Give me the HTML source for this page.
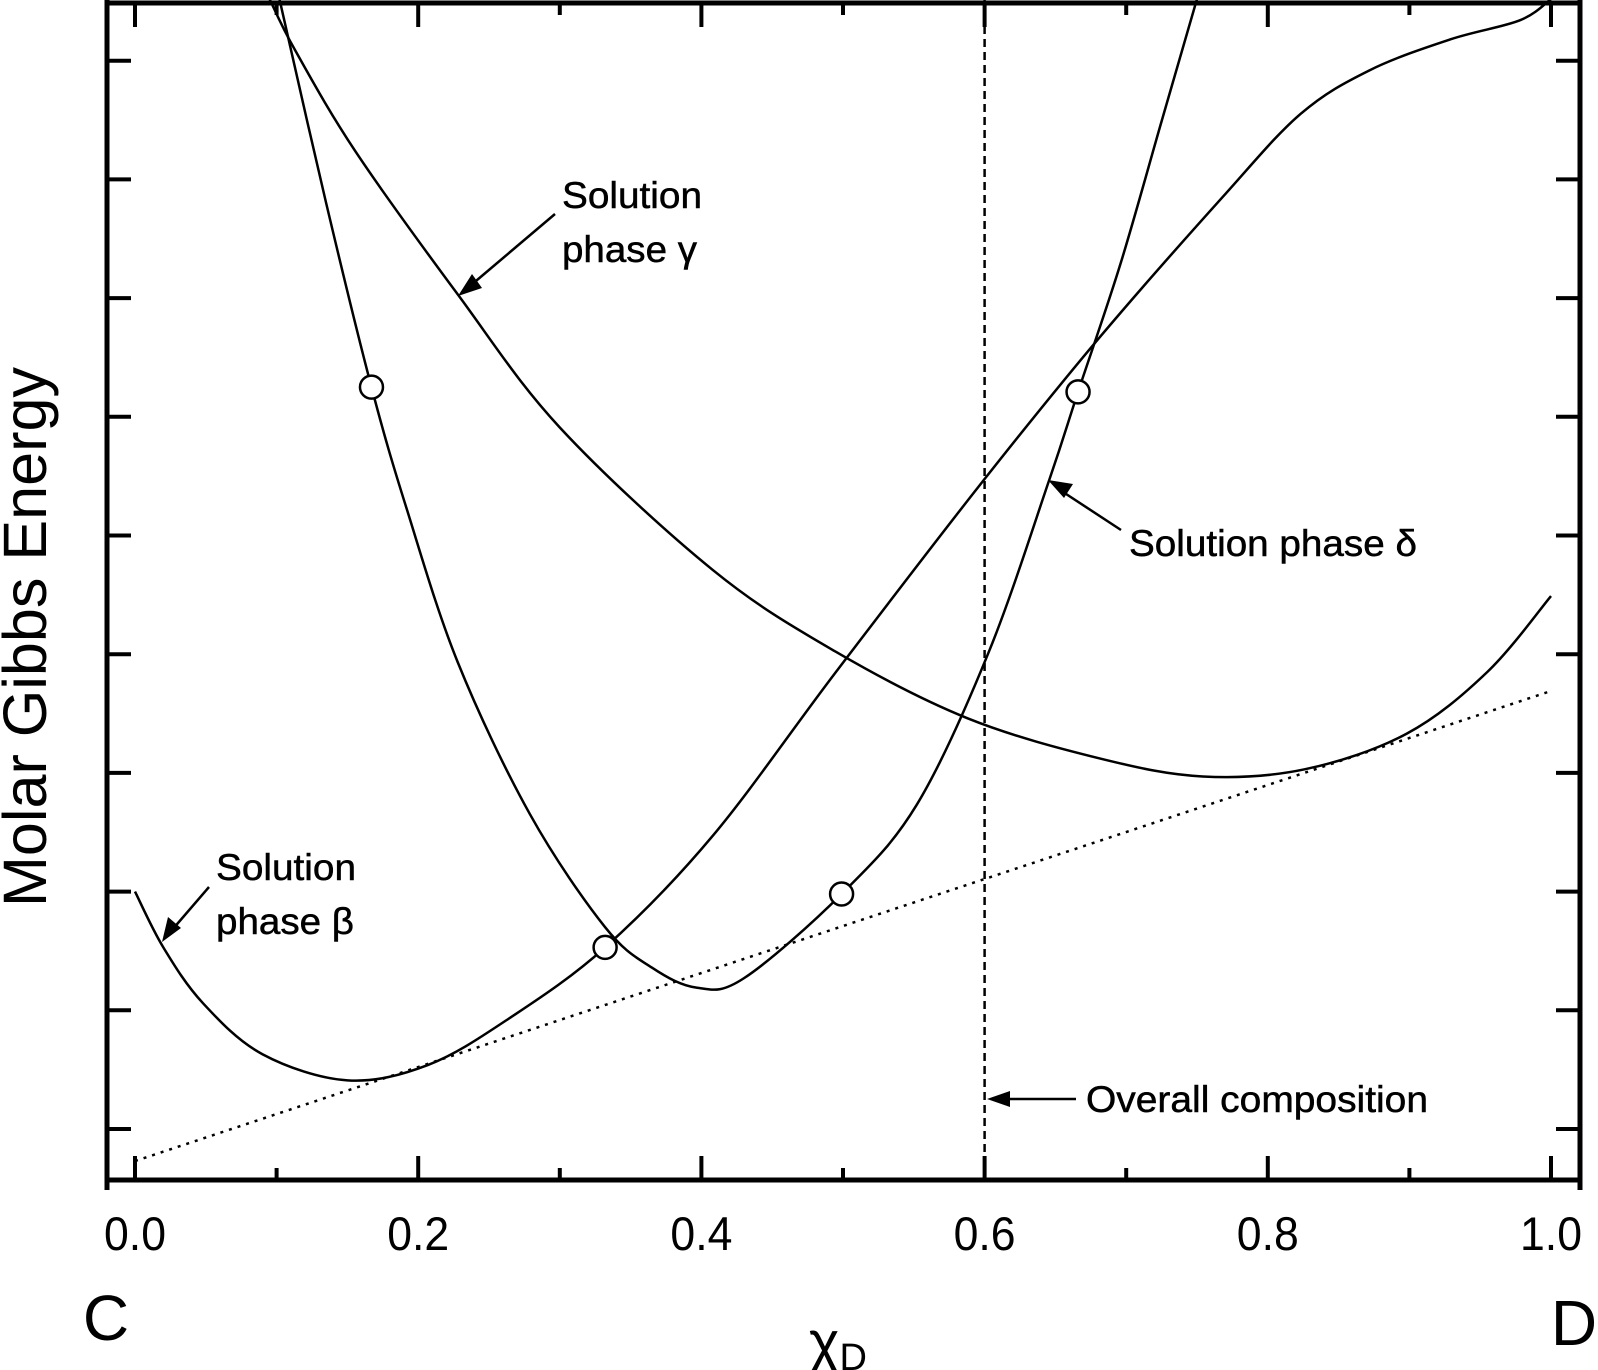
<!DOCTYPE html>
<html><head><meta charset="utf-8"><style>
html,body{margin:0;padding:0;background:#fff}
svg{display:block}
text{font-family:"Liberation Sans",Arial,sans-serif;fill:#000}
.ann{font-size:37px;stroke:#000;stroke-width:0.5px}
</style></head><body>
<svg id="chart" width="1598" height="1370" viewBox="0 0 1598 1370" xmlns="http://www.w3.org/2000/svg">
<g id="axes"></g>
<g id="marks"></g>
<text transform="translate(46,637) rotate(-90)" font-size="61" text-anchor="middle" textLength="540" lengthAdjust="spacingAndGlyphs">Molar Gibbs Energy</text>
<text x="838" y="1362" font-size="58" text-anchor="middle">χ<tspan font-size="38" dy="8">D</tspan></text>
<text x="106" y="1340" font-size="64" text-anchor="middle">C</text>
<text x="1574" y="1345" font-size="64" text-anchor="middle">D</text>
<g>
<text class="ann" x="562" y="208" textLength="140" lengthAdjust="spacingAndGlyphs">Solution</text>
<text class="ann" x="562" y="262" textLength="135" lengthAdjust="spacingAndGlyphs">phase γ</text>
<line x1="555" y1="214" x2="470" y2="286" stroke="#000" stroke-width="2.5"/>
<polygon points="458,296 472,274 482,288" fill="#000"/>
</g>
<g>
<text class="ann" x="1129" y="556" textLength="288" lengthAdjust="spacingAndGlyphs">Solution phase δ</text>
<line x1="1121" y1="530" x2="1060" y2="490" stroke="#000" stroke-width="2.5"/>
<polygon points="1048,480 1073,484 1064,498" fill="#000"/>
</g>
<g>
<text class="ann" x="216" y="880" textLength="140" lengthAdjust="spacingAndGlyphs">Solution</text>
<text class="ann" x="216" y="934" textLength="138" lengthAdjust="spacingAndGlyphs">phase β</text>
<line x1="209" y1="887" x2="172" y2="930" stroke="#000" stroke-width="2.5"/>
<polygon points="162,942 168,917 181,928" fill="#000"/>
</g>
<g>
<text class="ann" x="1086" y="1112" textLength="342" lengthAdjust="spacingAndGlyphs">Overall composition</text>
<line x1="1076" y1="1099" x2="1000" y2="1099" stroke="#000" stroke-width="2.5"/>
<polygon points="987,1099 1010,1091 1010,1107" fill="#000"/>
</g>
</svg>
<script>
const xTickValues=[0,0.1,0.2,0.3,0.4,0.5,0.6,0.7,0.8,0.9,1.0];
const xTickLabels=["0.0","0.2","0.4","0.6","0.8","1.0"];
const xLabelValues=[0,0.2,0.4,0.6,0.8,1.0];
const yTickValues=[0,1,2,3,4,5,6,7,8,9];
const betaX=[0,0.02,0.048,0.09,0.15,0.207,0.264,0.332,0.408,0.495,0.595,0.682,0.768,0.823,0.872,0.929,0.978,1.0];
const betaY=[2.0,1.53,1.06,0.63,0.41,0.54,0.93,1.53,2.47,3.85,5.40,6.68,7.85,8.55,8.92,9.18,9.34,9.52];
const gammaX=[0.095,0.113,0.156,0.228,0.30,0.408,0.495,0.588,0.682,0.754,0.826,0.898,0.955,1.0];
const gammaY=[9.52,9.09,8.23,7.03,5.91,4.71,4.02,3.46,3.12,2.97,3.03,3.33,3.85,4.49];
const deltaX=[0.102,0.135,0.167,0.192,0.228,0.279,0.332,0.365,0.397,0.43,0.499,0.552,0.603,0.646,0.666,0.696,0.725,0.75];
const deltaY=[9.52,7.80,6.25,5.22,3.93,2.65,1.70,1.36,1.19,1.27,1.98,2.73,4.02,5.48,6.21,7.29,8.49,9.52];
const circleX=[0.167,0.332,0.499,0.666];
const circleY=[6.25,1.53,1.98,6.21];
const tangentX=[0,1.0];
const tangentY=[-0.27,3.69];
const overallComposition=0.6;

const X0=135,XW=1416,YB=1129,YS=118.7;
const sx=v=>X0+v*XW, sy=k=>YB-k*YS;
const NS="http://www.w3.org/2000/svg";
const axes=document.getElementById('axes'), marks=document.getElementById('marks');
function mk(tag,attrs,parent){const e=document.createElementNS(NS,tag);for(const k in attrs)e.setAttribute(k,attrs[k]);parent.appendChild(e);return e;}
const L=107,R=1580,B=1180,T=3;
let a=mk('line',{x1:L,y1:0,x2:L,y2:B+10,stroke:'#000','stroke-width':5},axes);


a=mk('line',{x1:R,y1:0,x2:R,y2:B+10,stroke:'#000','stroke-width':5},axes);


a=mk('line',{x1:L-2,y1:B,x2:R+2,y2:B,stroke:'#000','stroke-width':5},axes);


a=mk('line',{x1:L-2,y1:T,x2:R+2,y2:T,stroke:'#000','stroke-width':5},axes);


xTickValues.forEach((v,i)=>{const len=i%2===0?24:12;
let t=mk('line',{x1:sx(v),y1:B,x2:sx(v),y2:B-len,stroke:'#000','stroke-width':4},axes);


t=mk('line',{x1:sx(v),y1:T,x2:sx(v),y2:T+len,stroke:'#000','stroke-width':4},axes);

});
xLabelValues.forEach((v,i)=>{const t=mk('text',{x:sx(v),y:1250,'font-size':47,'text-anchor':'middle',textLength:62,lengthAdjust:'spacingAndGlyphs'},axes);t.textContent=xTickLabels[i];

});
yTickValues.forEach(k=>{let t=mk('line',{x1:L,y1:sy(k),x2:L+24,y2:sy(k),stroke:'#000','stroke-width':4},axes);


t=mk('line',{x1:R,y1:sy(k),x2:R-24,y2:sy(k),stroke:'#000','stroke-width':4},axes);

});
function smooth(xs,ys){const p=xs.map((x,i)=>[sx(x),sy(ys[i])]);let d='M'+p[0][0]+','+p[0][1];
for(let i=0;i<p.length-1;i++){const p0=p[i-1]||p[i],p1=p[i],p2=p[i+1],p3=p[i+2]||p2;
d+=' C'+(p1[0]+(p2[0]-p0[0])/6)+','+(p1[1]+(p2[1]-p0[1])/6)+' '+(p2[0]-(p3[0]-p1[0])/6)+','+(p2[1]-(p3[1]-p1[1])/6)+' '+p2[0]+','+p2[1];}return d;}
const clip=mk('clipPath',{id:'cp'},document.getElementById('chart'));mk('rect',{x:L,y:0,width:R-L,height:B},clip);
marks.setAttribute('clip-path','url(#cp)');
let c=mk('path',{d:smooth(betaX,betaY),fill:'none',stroke:'#000','stroke-width':2.5},marks);


c=mk('path',{d:smooth(gammaX,gammaY),fill:'none',stroke:'#000','stroke-width':2.5},marks);


c=mk('path',{d:smooth(deltaX,deltaY),fill:'none',stroke:'#000','stroke-width':2.5},marks);


c=mk('line',{x1:sx(tangentX[0]),y1:sy(tangentY[0]),x2:sx(tangentX[1]),y2:sy(tangentY[1]),stroke:'#000','stroke-width':2.5,'stroke-dasharray':'3,6'},marks);


c=mk('line',{x1:sx(overallComposition),y1:0,x2:sx(overallComposition),y2:B,stroke:'#000','stroke-width':2.5,'stroke-dasharray':'8,5'},marks);


circleX.forEach((x,i)=>{const e=mk('circle',{cx:sx(x),cy:sy(circleY[i]),r:11.5,fill:'#fff',stroke:'#000','stroke-width':2.5},marks);

});
</script>
</body></html>
